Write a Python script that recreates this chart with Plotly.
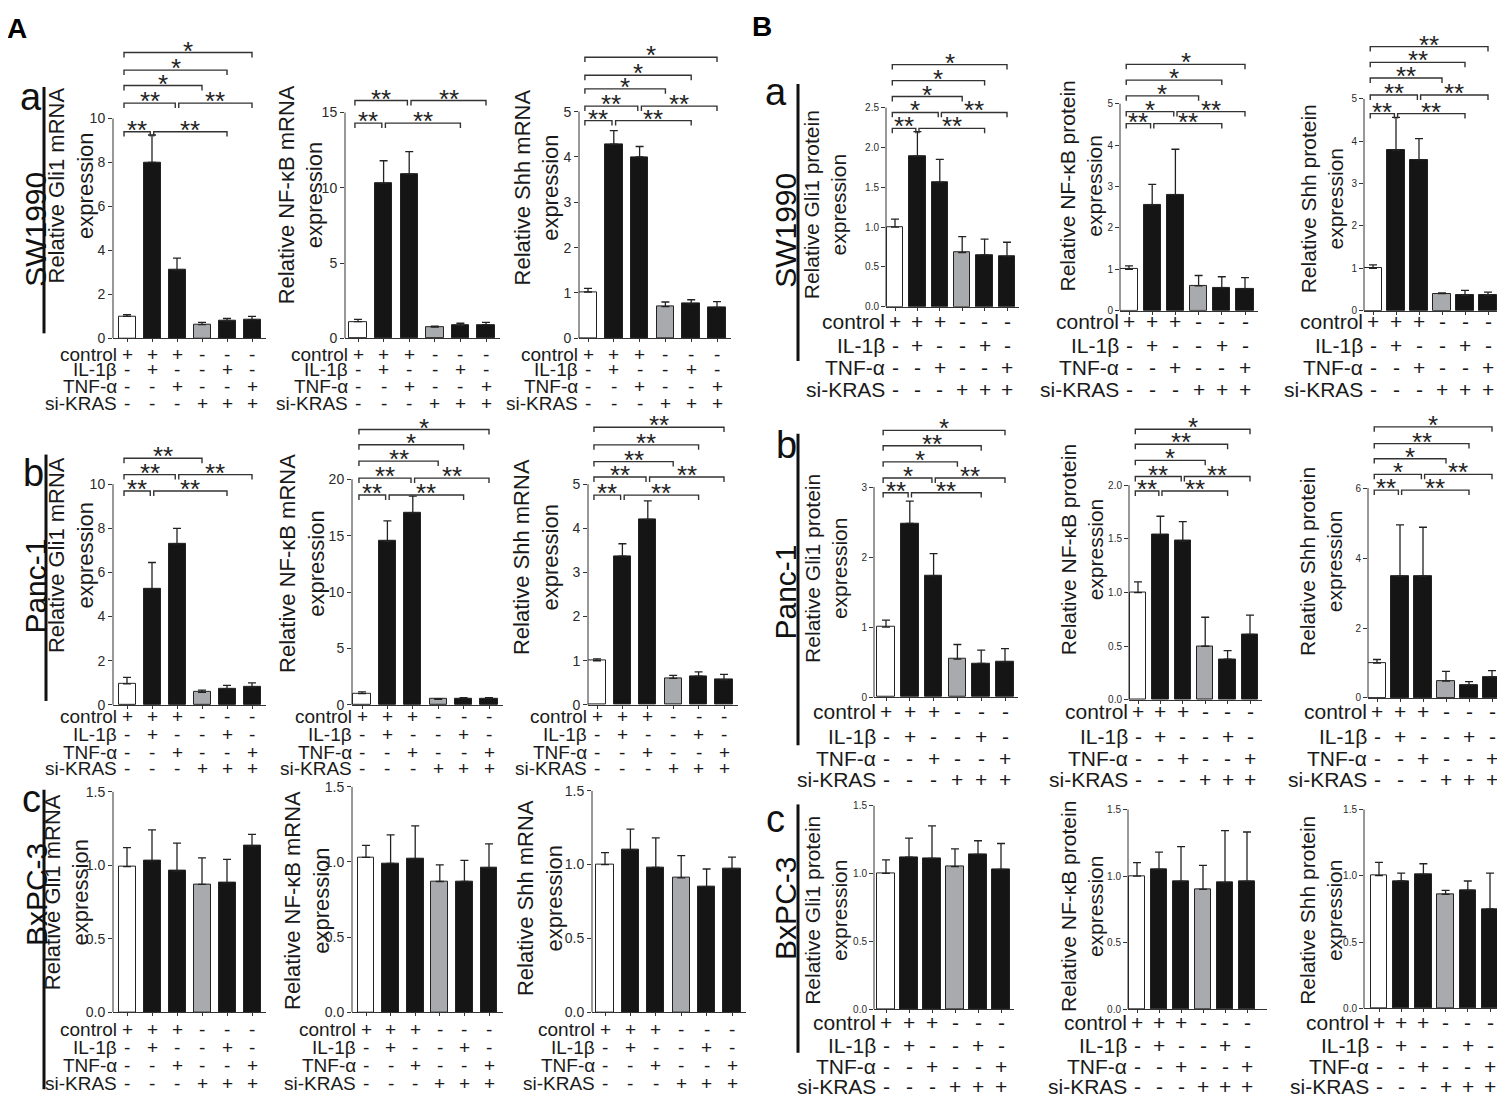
import plotly.graph_objects as go

W, H = 1505, 1106
OFF = 8  # the page body adds this much margin round the figure

conditions = ["control", "IL-1β", "TNF-α", "si-KRAS"]
signs = [
    ["+", "+", "+", "-", "-", "-"],
    ["-", "+", "-", "-", "+", "-"],
    ["-", "-", "+", "-", "-", "+"],
    ["-", "-", "-", "+", "+", "+"],
]
# comparisons drawn as brackets, and which height level each one uses
pairs = [(0, 1), (1, 4), (0, 2), (2, 5), (0, 3), (0, 4), (0, 5)]
pair_level = [0, 0, 1, 1, 2, 3, 4]

# ---------------- A: mRNA ----------------
mrna_sw_gli1 = [1.0, 8.0, 3.1, 0.62, 0.78, 0.85]
mrna_sw_gli1_err = [0.08, 1.25, 0.55, 0.1, 0.12, 0.15]
mrna_sw_gli1_lvl = [9.4, 10.7, 11.5, 12.2, 13.0]
mrna_sw_gli1_sig = ["**", "**", "**", "**", "*", "*", "*"]

mrna_sw_nfkb = [1.1, 10.3, 10.9, 0.75, 0.85, 0.9]
mrna_sw_nfkb_err = [0.15, 1.5, 1.5, 0.06, 0.15, 0.15]
mrna_sw_nfkb_lvl = [14.3, 15.8]
mrna_sw_nfkb_sig = ["**", "**", "**", "**", None, None, None]

mrna_sw_shh = [1.02, 4.28, 4.0, 0.7, 0.76, 0.68]
mrna_sw_shh_err = [0.08, 0.3, 0.23, 0.1, 0.09, 0.13]
mrna_sw_shh_lvl = [4.8, 5.12, 5.5, 5.8, 6.2]
mrna_sw_shh_sig = ["**", "**", "**", "**", "*", "*", "*"]

mrna_pa_gli1 = [0.95, 5.25, 7.3, 0.57, 0.73, 0.8]
mrna_pa_gli1_err = [0.3, 1.2, 0.7, 0.1, 0.15, 0.2]
mrna_pa_gli1_lvl = [9.69, 10.43, 11.17]
mrna_pa_gli1_sig = ["**", "**", "**", "**", "**", None, None]

mrna_pa_nfkb = [1.0, 14.5, 17.0, 0.5, 0.55, 0.55]
mrna_pa_nfkb_err = [0.15, 1.8, 1.5, 0.06, 0.1, 0.1]
mrna_pa_nfkb_lvl = [18.6, 20.1, 21.6, 23.05, 24.4]
mrna_pa_nfkb_sig = ["**", "**", "**", "**", "**", "*", "*"]

mrna_pa_shh = [1.0, 3.37, 4.2, 0.6, 0.65, 0.57]
mrna_pa_shh_err = [0.04, 0.28, 0.42, 0.07, 0.1, 0.12]
mrna_pa_shh_lvl = [4.75, 5.16, 5.51, 5.89, 6.29]
mrna_pa_shh_sig = ["**", "**", "**", "**", "**", "**", "**"]

mrna_bx_gli1 = [0.99, 1.03, 0.96, 0.87, 0.88, 1.13]
mrna_bx_gli1_err = [0.13, 0.21, 0.19, 0.18, 0.16, 0.08]
mrna_bx_nfkb = [1.03, 0.99, 1.02, 0.87, 0.87, 0.96]
mrna_bx_nfkb_err = [0.08, 0.19, 0.22, 0.11, 0.14, 0.16]
mrna_bx_shh = [1.0, 1.1, 0.98, 0.91, 0.85, 0.97]
mrna_bx_shh_err = [0.08, 0.14, 0.2, 0.15, 0.12, 0.08]

# ---------------- B: protein ----------------
prot_sw_gli1 = [1.0, 1.89, 1.56, 0.68, 0.65, 0.63]
prot_sw_gli1_err = [0.1, 0.31, 0.29, 0.2, 0.2, 0.18]
prot_sw_gli1_lvl = [2.24, 2.44, 2.64, 2.84, 3.04]
prot_sw_gli1_sig = ["**", "**", "*", "**", "*", "*", "*"]

prot_sw_nfkb = [1.0, 2.55, 2.8, 0.6, 0.55, 0.53]
prot_sw_nfkb_err = [0.08, 0.5, 1.1, 0.25, 0.27, 0.27]
prot_sw_nfkb_lvl = [4.52, 4.81, 5.19, 5.57, 5.95]
prot_sw_nfkb_sig = ["**", "**", "*", "**", "*", "*", "*"]

prot_sw_shh = [1.0, 3.78, 3.56, 0.4, 0.36, 0.36]
prot_sw_shh_err = [0.08, 0.78, 0.5, 0.02, 0.12, 0.08]
prot_sw_shh_lvl = [4.65, 5.09, 5.49, 5.86, 6.23]
prot_sw_shh_sig = ["**", "**", "**", "**", "**", "**", "**"]

prot_pa_gli1 = [1.0, 2.48, 1.73, 0.54, 0.48, 0.5]
prot_pa_gli1_err = [0.1, 0.32, 0.32, 0.21, 0.19, 0.19]
prot_pa_gli1_lvl = [2.92, 3.13, 3.36, 3.59, 3.81]
prot_pa_gli1_sig = ["**", "**", "*", "**", "*", "**", "*"]

prot_pa_nfkb = [1.0, 1.54, 1.48, 0.5, 0.38, 0.61]
prot_pa_nfkb_err = [0.1, 0.17, 0.18, 0.27, 0.08, 0.18]
prot_pa_nfkb_lvl = [1.945, 2.08, 2.23, 2.38, 2.52]
prot_pa_nfkb_sig = ["**", "**", "**", "**", "*", "**", "*"]

prot_pa_shh = [1.0, 3.48, 3.48, 0.48, 0.37, 0.6]
prot_pa_shh_err = [0.1, 1.47, 1.4, 0.28, 0.1, 0.18]
prot_pa_shh_lvl = [5.94, 6.39, 6.84, 7.27, 7.75]
prot_pa_shh_sig = ["**", "**", "*", "**", "*", "**", "*"]

prot_bx_gli1 = [1.0, 1.12, 1.11, 1.05, 1.14, 1.03]
prot_bx_gli1_err = [0.1, 0.14, 0.24, 0.13, 0.1, 0.19]
prot_bx_nfkb = [1.0, 1.05, 0.96, 0.9, 0.95, 0.96]
prot_bx_nfkb_err = [0.1, 0.13, 0.26, 0.18, 0.39, 0.37]
prot_bx_shh = [1.0, 0.96, 1.01, 0.86, 0.89, 0.75]
prot_bx_shh_err = [0.1, 0.06, 0.08, 0.03, 0.07, 0.27]

# axis ticks
ticks_10 = [0, 2, 4, 6, 8, 10]
ticks_15 = [0, 5, 10, 15]
ticks_20 = [0, 5, 10, 15, 20]
ticks_5 = [0, 1, 2, 3, 4, 5]
ticks_3 = [0, 1, 2, 3]
ticks_6 = [0, 2, 4, 6]
ticks_1_5 = [0, 0.5, 1.0, 1.5]
ticks_2 = [0, 0.5, 1.0, 1.5, 2.0]
ticks_2_5 = [0, 0.5, 1.0, 1.5, 2.0, 2.5]

FONT = "Liberation Sans, Arial, sans-serif"
BAR_COLORS = ["white", "#151515", "#151515", "#a8aaad", "#151515", "#151515"]
LINE = "#333333"


def geo(ax, c0, c5, base, top, rows, tx, ty, big, xend=5.55):
    return dict(ax=ax, c0=c0, c5=c5, base=base, top=top, rows=rows, tx=tx, ty=ty, big=big, xend=xend)


rows_Aa = [351, 367, 384, 401]
rows_Ab = [719, 737, 755, 772]
rows_Ac = [1036, 1055, 1073, 1091]
rows_Ba = [318, 342, 365, 387]
rows_Bb = [714, 739, 761, 783]
rows_Bc = [1029, 1053, 1074, 1094]

panels = [
    ("Relative Gli1 mRNA", mrna_sw_gli1, mrna_sw_gli1_err, mrna_sw_gli1_lvl, mrna_sw_gli1_sig, ticks_10, "int",
     geo(113, 127, 252, 335, 112, rows_Aa, 71, 180, True)),
    ("Relative NF-κB mRNA", mrna_sw_nfkb, mrna_sw_nfkb_err, mrna_sw_nfkb_lvl, mrna_sw_nfkb_sig, ticks_15, "int",
     geo(345, 358, 486, 335, 106, rows_Aa, 301, 190, True)),
    ("Relative Shh mRNA", mrna_sw_shh, mrna_sw_shh_err, mrna_sw_shh_lvl, mrna_sw_shh_sig, ticks_5, "int",
     geo(579, 588, 717, 335, 105, rows_Aa, 537, 182, True)),
    ("Relative Gli1 mRNA", mrna_pa_gli1, mrna_pa_gli1_err, mrna_pa_gli1_lvl, mrna_pa_gli1_sig, ticks_10, "int",
     geo(113, 127, 252, 707, 483, rows_Ab, 71, 555, True)),
    ("Relative NF-κB mRNA", mrna_pa_nfkb, mrna_pa_nfkb_err, mrna_pa_nfkb_lvl, mrna_pa_nfkb_sig, ticks_20, "int",
     geo(352, 362, 489, 707, 478, rows_Ab, 302, 564, True)),
    ("Relative Shh mRNA", mrna_pa_shh, mrna_pa_shh_err, mrna_pa_shh_lvl, mrna_pa_shh_sig, ticks_5, "int",
     geo(588, 597, 724, 707, 483, rows_Ab, 536, 557, True)),
    ("Relative Gli1 mRNA", mrna_bx_gli1, mrna_bx_gli1_err, [], [], ticks_1_5, "dec",
     geo(113, 127, 252, 1019, 795, rows_Ac, 67, 897, True)),
    ("Relative NF-κB mRNA", mrna_bx_nfkb, mrna_bx_nfkb_err, [], [], ticks_1_5, "dec",
     geo(352, 366, 489, 1019, 790, rows_Ac, 307, 906, True)),
    ("Relative Shh mRNA", mrna_bx_shh, mrna_bx_shh_err, [], [], ticks_1_5, "dec",
     geo(592, 605, 732, 1019, 794, rows_Ac, 540, 903, True)),
    ("Relative Gli1 protein", prot_sw_gli1, prot_sw_gli1_err, prot_sw_gli1_lvl, prot_sw_gli1_sig, ticks_2_5, "dec",
     geo(886, 895, 1007, 303, 101, rows_Ba, 825, 199, False)),
    ("Relative NF-κB protein", prot_sw_nfkb, prot_sw_nfkb_err, prot_sw_nfkb_lvl, prot_sw_nfkb_sig, ticks_5, "int",
     geo(1120, 1129, 1245, 307, 97, rows_Ba, 1081, 181, False)),
    ("Relative Shh protein", prot_sw_shh, prot_sw_shh_err, prot_sw_shh_lvl, prot_sw_shh_sig, ticks_5, "int",
     geo(1364, 1373, 1488, 307, 92, rows_Ba, 1322, 194, False)),
    ("Relative Gli1 protein", prot_pa_gli1, prot_pa_gli1_err, prot_pa_gli1_lvl, prot_pa_gli1_sig, ticks_3, "int",
     geo(874, 886, 1005, 699, 486, rows_Bb, 826, 569, False)),
    ("Relative NF-κB protein", prot_pa_nfkb, prot_pa_nfkb_err, prot_pa_nfkb_lvl, prot_pa_nfkb_sig, ticks_2, "dec",
     geo(1129, 1138, 1250, 702, 484, rows_Bb, 1082, 550, False)),
    ("Relative Shh protein", prot_pa_shh, prot_pa_shh_err, prot_pa_shh_lvl, prot_pa_shh_sig, ticks_6, "int",
     geo(1368, 1377, 1492, 700, 487, rows_Bb, 1321, 562, False)),
    ("Relative Gli1 protein", prot_bx_gli1, prot_bx_gli1_err, [], [], ticks_1_5, "dec",
     geo(874, 886, 1001, 1016, 809, rows_Bc, 826, 916, False)),
    ("Relative NF-κB protein", prot_bx_nfkb, prot_bx_nfkb_err, [], [], ticks_1_5, "dec",
     geo(1128, 1137, 1247, 1016, 813, rows_Bc, 1082, 912, False, xend=5.9)),
    ("Relative Shh protein", prot_bx_shh, prot_bx_shh_err, [], [], ticks_1_5, "dec",
     geo(1364, 1379, 1490, 1015, 813, rows_Bc, 1321, 916, False)),
]


def px(x):
    return (x - OFF) / W


def py(y):
    return 1 - (y - OFF) / H


fig = go.Figure()
layout = {}
shapes = []
annotations = []

for n, (title, vals, err, lvl, sig, ticks, fmt, g) in enumerate(panels, start=1):
    sfx = "" if n == 1 else str(n)
    xa, ya = "x" + sfx, "y" + sfx
    s = (g["c5"] - g["c0"]) / 5.0
    x_lo = -(g["c0"] - g["ax"]) / s
    x_hi = g["xend"]
    right = g["c0"] + x_hi * s
    T = ticks[-1]
    k = (g["base"] - g["top"]) / T
    E = max([T] + [v * 1.01 for v in lvl])
    top = g["base"] - E * k

    fig.add_trace(go.Bar(
        x=list(range(6)), y=vals, width=0.68 if g["big"] else 0.74,
        marker=dict(color=BAR_COLORS, line=dict(color="#222222", width=1)),
        error_y=dict(type="data", array=err, arrayminus=[0] * 6, symmetric=False,
                     color="#222222", thickness=1.3, width=4),
        xaxis=xa, yaxis=ya, showlegend=False, hoverinfo="skip"))

    # significance brackets
    drop = 5 / k
    for p_i, (i, j) in enumerate(pairs):
        if p_i >= len(sig) or sig[p_i] is None:
            continue
        lv = lvl[pair_level[p_i]]
        xi = i - 0.12 if i == 0 else i + 0.07
        xj = j - 0.07 if (i == 0 and j in (1, 2)) else j
        fig.add_trace(go.Scatter(
            x=[xi, xi, xj, xj], y=[lv - drop, lv, lv, lv - drop], mode="lines",
            line=dict(color=LINE, width=1.4), cliponaxis=False,
            xaxis=xa, yaxis=ya, showlegend=False, hoverinfo="skip"))
        annotations.append(dict(
            x=(xi + xj) / 2, y=lv, xref=xa, yref=ya, text=sig[p_i], showarrow=False,
            yanchor="bottom", yshift=-15, font=dict(family=FONT, size=26, color="#222222")))

    if fmt == "int":
        ticktext = [str(int(t)) for t in ticks]
    else:
        ticktext = ["%.1f" % t for t in ticks]

    layout["xaxis" + sfx] = dict(
        domain=[px(g["ax"]), min(1.0, px(right))], range=[x_lo, x_hi], anchor=ya,
        showline=True, linecolor=LINE, linewidth=1, ticks="outside", ticklen=3,
        tickcolor=LINE, tickvals=list(range(6)), showticklabels=False,
        showgrid=False, zeroline=False, fixedrange=True)
    layout["yaxis" + sfx] = dict(
        domain=[py(g["base"]), py(top)], range=[0, E], anchor=xa,
        showline=False, tickvals=ticks, ticktext=ticktext, ticks="outside",
        ticklen=4, tickcolor=LINE,
        tickfont=dict(family=FONT, size=14 if g["big"] else 10, color="#2a2a2a"),
        showgrid=False, zeroline=False, fixedrange=True)

    shapes.append(dict(type="line", xref=xa + " domain", x0=0, x1=0, yref=ya, y0=0, y1=T,
                       line=dict(color=LINE, width=1)))

    # y title
    annotations.append(dict(
        x=px(g["tx"]), y=py(g["ty"]), xref="paper", yref="paper", text=title + "<br>expression",
        textangle=-90, showarrow=False, xanchor="center", yanchor="middle",
        font=dict(family=FONT, size=22 if g["big"] else 21, color="#1a1a1a")))

    # treatment table
    tsize = 19 if g["big"] else 21
    for r, row in enumerate(signs):
        yr = py(g["rows"][r])
        annotations.append(dict(
            x=px(g["c0"] - 8), y=yr, xref="paper", yref="paper", text=conditions[r],
            showarrow=False, xanchor="right", yanchor="middle",
            font=dict(family=FONT, size=tsize, color="#1a1a1a")))
        for i, sgn in enumerate(row):
            annotations.append(dict(
                x=i, y=yr, xref=xa, yref="paper", text=sgn, showarrow=False,
                xanchor="center", yanchor="middle",
                font=dict(family=FONT, size=tsize, color="#1a1a1a")))

# row labels, cell lines and separator lines
row_labels = [
    ("a", 31, 90, "SW1990", 36, 225, 44, 80, 330),
    ("b", 33, 472, "Panc-1", 36, 587, 46, 453, 703),
    ("c", 31, 802, "BxPC-3", 36, 900, 44, 793, 1097),
    ("a", 776, 85, "SW1990", 786, 226, 798, 77, 358),
    ("b", 786, 443, "Panc-1", 786, 593, 798, 432, 748),
    ("c", 776, 823, "BxPC-3", 786, 914, 798, 808, 1060),
]
for letter, lx, ly, cell, cx, cy, vx, v0, v1 in row_labels:
    annotations.append(dict(x=px(lx), y=py(ly), xref="paper", yref="paper", text=letter,
                            showarrow=False, xanchor="center", yanchor="middle",
                            font=dict(family=FONT, size=38, color="#111111")))
    annotations.append(dict(x=px(cx), y=py(cy), xref="paper", yref="paper", text=cell,
                            textangle=-90, showarrow=False, xanchor="center", yanchor="middle",
                            font=dict(family=FONT, size=30, color="#111111")))
    shapes.append(dict(type="line", xref="paper", yref="paper", x0=px(vx), x1=px(vx),
                       y0=py(v0), y1=py(v1), line=dict(color="#111111", width=3)))

for letter, lx, ly in [("A", 17, 21), ("B", 762, 19)]:
    annotations.append(dict(x=px(lx), y=py(ly), xref="paper", yref="paper", text="<b>%s</b>" % letter,
                            showarrow=False, xanchor="center", yanchor="middle",
                            font=dict(family=FONT, size=28, color="#000000")))

fig.update_layout(
    width=W, height=H, margin=dict(l=0, r=0, t=0, b=0),
    paper_bgcolor="white", plot_bgcolor="white",
    shapes=shapes, annotations=annotations, bargap=0,
    **layout)

fig.write_html("out.html")
